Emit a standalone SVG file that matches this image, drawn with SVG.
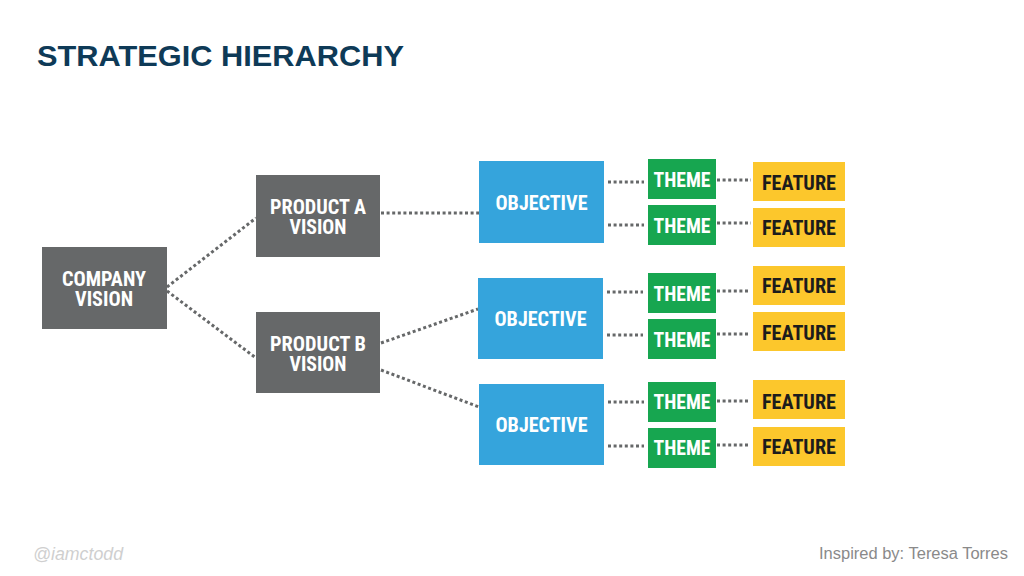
<svg xmlns="http://www.w3.org/2000/svg" width="1024" height="576" viewBox="0 0 1024 576">
<style>
.bg{fill:#ffffff}
.gray{fill:#666869}
.blue{fill:#35a4dc}
.green{fill:#17a650}
.yellow{fill:#fcc72c}
.lbl{font-family:"Liberation Sans Narrow","Roboto Condensed","Liberation Sans",Arial,sans-serif;font-weight:bold;font-size:21px;text-anchor:middle;fill:#ffffff}
.dark{fill:#1c1c1c}
.con{stroke:#666869;stroke-width:3;stroke-dasharray:3 2.6;fill:none}
.title{font-family:"Liberation Sans",Arial,sans-serif;font-weight:bold;font-size:30px;fill:#0e3a57}
</style>
<rect class="bg" width="1024" height="576"/>
<text class="title" x="37" y="65.5" textLength="367" lengthAdjust="spacingAndGlyphs">STRATEGIC HIERARCHY</text>
<g id="connectors">
<line class="con" x1="167" y1="287" x2="256" y2="218"/>
<line class="con" x1="167" y1="291" x2="256" y2="358"/>
<line class="con" x1="381" y1="213" x2="479" y2="213"/>
<line class="con" x1="381" y1="343" x2="478" y2="309"/>
<line class="con" x1="381" y1="370" x2="479" y2="407"/>
<line class="con" x1="608" y1="182" x2="644" y2="182"/>
<line class="con" x1="608" y1="225" x2="644" y2="225"/>
<line class="con" x1="607" y1="292" x2="643" y2="292"/>
<line class="con" x1="607" y1="335" x2="643" y2="335"/>
<line class="con" x1="608" y1="402" x2="644" y2="402"/>
<line class="con" x1="608" y1="446" x2="644" y2="446"/>
<line class="con" x1="717" y1="180" x2="751" y2="180"/>
<line class="con" x1="717" y1="223" x2="751" y2="223"/>
<line class="con" x1="717" y1="291" x2="750" y2="291"/>
<line class="con" x1="717" y1="334" x2="750" y2="334"/>
<line class="con" x1="717" y1="401" x2="750" y2="401"/>
<line class="con" x1="717" y1="445" x2="750" y2="445"/>
</g>
<g id="company">
<rect class="gray" x="42" y="247" width="125" height="82"/>
<text class="lbl" x="104" y="286" textLength="84" lengthAdjust="spacingAndGlyphs">COMPANY</text>
<text class="lbl" x="104" y="306" textLength="58" lengthAdjust="spacingAndGlyphs">VISION</text>
</g>
<g id="productA">
<rect class="gray" x="256" y="175" width="124" height="82"/>
<text class="lbl" x="318" y="214" textLength="96" lengthAdjust="spacingAndGlyphs">PRODUCT A</text>
<text class="lbl" x="318" y="234" textLength="57" lengthAdjust="spacingAndGlyphs">VISION</text>
</g>
<g id="productB">
<rect class="gray" x="256" y="312" width="124" height="81"/>
<text class="lbl" x="318" y="351" textLength="96" lengthAdjust="spacingAndGlyphs">PRODUCT B</text>
<text class="lbl" x="318" y="371" textLength="57" lengthAdjust="spacingAndGlyphs">VISION</text>
</g>
<g id="objective1">
<rect class="blue" x="479" y="161" width="125" height="82"/>
<text class="lbl" x="541.5" y="210" textLength="92" lengthAdjust="spacingAndGlyphs">OBJECTIVE</text>
</g>
<g id="objective2">
<rect class="blue" x="478" y="278" width="125" height="81"/>
<text class="lbl" x="540.5" y="326" textLength="92" lengthAdjust="spacingAndGlyphs">OBJECTIVE</text>
</g>
<g id="objective3">
<rect class="blue" x="479" y="384" width="125" height="81"/>
<text class="lbl" x="541.5" y="432" textLength="92" lengthAdjust="spacingAndGlyphs">OBJECTIVE</text>
</g>
<g id="theme1"><rect class="green" x="648" y="159" width="68" height="40"/><text class="lbl" x="682" y="187" textLength="57" lengthAdjust="spacingAndGlyphs">THEME</text></g>
<g id="theme2"><rect class="green" x="648" y="205" width="68" height="40"/><text class="lbl" x="682" y="233" textLength="57" lengthAdjust="spacingAndGlyphs">THEME</text></g>
<g id="theme3"><rect class="green" x="648" y="273" width="68" height="40"/><text class="lbl" x="682" y="300.5" textLength="57" lengthAdjust="spacingAndGlyphs">THEME</text></g>
<g id="theme4"><rect class="green" x="648" y="319" width="68" height="40"/><text class="lbl" x="682" y="347" textLength="57" lengthAdjust="spacingAndGlyphs">THEME</text></g>
<g id="theme5"><rect class="green" x="648" y="382" width="68" height="40"/><text class="lbl" x="682" y="408.5" textLength="57" lengthAdjust="spacingAndGlyphs">THEME</text></g>
<g id="theme6"><rect class="green" x="648" y="428" width="68" height="40"/><text class="lbl" x="682" y="455" textLength="57" lengthAdjust="spacingAndGlyphs">THEME</text></g>
<g id="feature1"><rect class="yellow" x="753" y="162" width="92" height="39"/><text class="lbl dark" x="799" y="189.5" textLength="74" lengthAdjust="spacingAndGlyphs">FEATURE</text></g>
<g id="feature2"><rect class="yellow" x="753" y="208" width="92" height="39"/><text class="lbl dark" x="799" y="235" textLength="74" lengthAdjust="spacingAndGlyphs">FEATURE</text></g>
<g id="feature3"><rect class="yellow" x="753" y="266" width="92" height="39"/><text class="lbl dark" x="799" y="293" textLength="74" lengthAdjust="spacingAndGlyphs">FEATURE</text></g>
<g id="feature4"><rect class="yellow" x="753" y="312" width="92" height="39"/><text class="lbl dark" x="799" y="339.5" textLength="74" lengthAdjust="spacingAndGlyphs">FEATURE</text></g>
<g id="feature5"><rect class="yellow" x="753" y="380" width="92" height="39"/><text class="lbl dark" x="799" y="408.5" textLength="74" lengthAdjust="spacingAndGlyphs">FEATURE</text></g>
<g id="feature6"><rect class="yellow" x="753" y="427" width="92" height="39"/><text class="lbl dark" x="799" y="454" textLength="74" lengthAdjust="spacingAndGlyphs">FEATURE</text></g>
<text x="33" y="560" font-family="'Liberation Sans',Arial,sans-serif" font-style="italic" font-size="18" fill="#cfcfcf" textLength="90" lengthAdjust="spacingAndGlyphs">@iamctodd</text>
<text x="1008" y="559" font-family="'Liberation Sans',Arial,sans-serif" font-size="16" fill="#8a8a8a" text-anchor="end" textLength="189" lengthAdjust="spacingAndGlyphs">Inspired by: Teresa Torres</text>
</svg>
